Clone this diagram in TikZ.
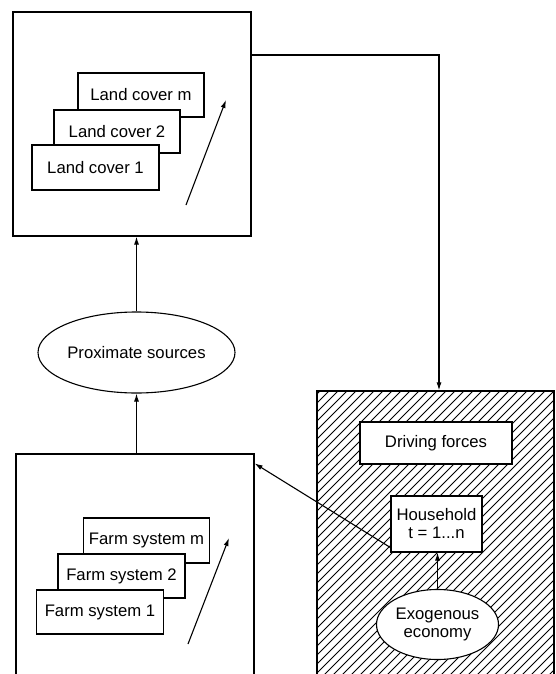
\documentclass[tikz,border=0pt]{standalone}
\usepackage{fontspec}
\setmainfont{Liberation Sans}
\usetikzlibrary{arrows.meta,shapes.geometric}
\begin{document}
\begin{tikzpicture}[x=1pt,y=-1pt,
  every node/.style={font=\fontsize{16.7}{18}\selectfont},
  box/.style={draw,line width=1.1pt,fill=white,inner sep=0pt,align=center},
  outer/.style={draw,line width=1.2pt,inner sep=0pt},
  oval/.style={ellipse,draw,line width=1.1pt,fill=white,inner sep=0pt,align=center},
  arr/.style={line width=1.1pt,-{Latex[length=8pt,width=5pt]}},
  hatchline/.style={line width=0.9pt}]
\clip (0,0) rectangle (555,674);

% top box with land covers
\node[outer,minimum width=238pt,minimum height=224pt] (top) at (132,124) {};
\node[box,minimum width=126pt,minimum height=44pt] (lcm) at (141,95) {Land cover m};
\node[box,minimum width=126pt,minimum height=43pt] (lc2) at (117,131.5) {Land cover 2};
\node[box,minimum width=127pt,minimum height=45pt] (lc1) at (95.5,167.5) {Land cover 1};
\coordinate (ta) at (186,205);
\coordinate (tb) at (226,100);
\draw[arr] (ta) -- (tb);

% proximate sources
\node[oval,minimum width=197pt,minimum height=81pt] (prox) at (136.5,352.5) {Proximate sources};

% bottom box with farm systems
\node[outer,minimum width=238pt,minimum height=246pt] (bot) at (135,577) {};
\node[box,minimum width=126pt,minimum height=45pt] (fsm) at (146.5,540.5) {Farm system m};
\node[box,minimum width=127pt,minimum height=44pt] (fs2) at (121.5,576) {Farm system 2};
\node[box,minimum width=127pt,minimum height=44pt] (fs1) at (100,612) {Farm system 1};
\coordinate (ba) at (188,644);
\coordinate (bb) at (229,538);
\draw[arr] (ba) -- (bb);

% hatched box
\node[outer,minimum width=237pt,minimum height=309pt,
  path picture={
    \foreach \b in {-315,-306,...,250}
      \draw[hatchline] ([xshift=\b pt]path picture bounding box.south west) -- ++(320,-320);
  }] (hatch) at (435.5,545.5) {};
\node[box,minimum width=152pt,minimum height=42pt] (drive) at (436,443) {Driving forces};
\node[box,minimum width=91pt,minimum height=56pt] (hh) at (436.5,524) {Household\\t = 1...n};
\node[oval,minimum width=122pt,minimum height=70pt] (exo) at (437.5,624.5) {Exogenous\\economy};

% connectors
\draw[arr] (prox.north) -- (prox.north |- top.south);
\draw[arr] (prox.south |- bot.north) -- (prox.south);
\coordinate (c1) at (439,55);
\draw[arr] (c1 -| top.east) -| (c1 |- hatch.north);
\draw[arr] ([yshift=5pt]hh.south west) -- ([yshift=-10pt]bot.north east);
\draw[arr] (exo.north) -- (exo.north |- hh.south);
\end{tikzpicture}
\end{document}
